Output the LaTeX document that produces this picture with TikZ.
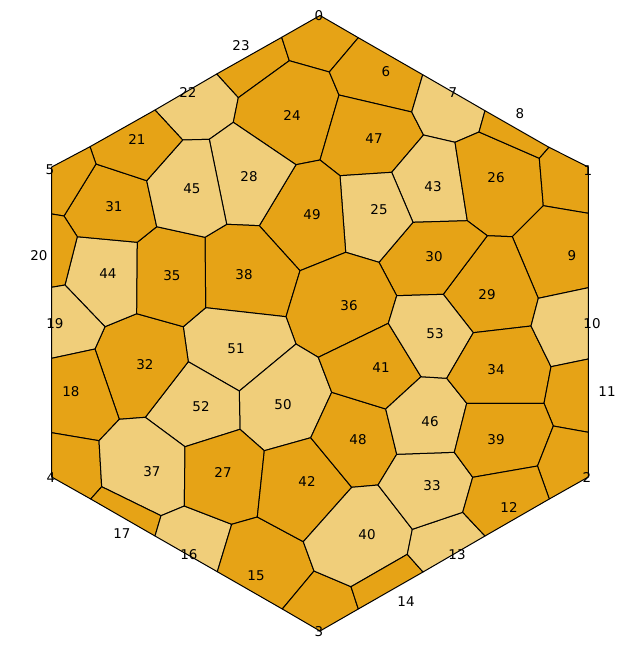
\documentclass[tikz,border=0pt]{standalone}
\usepackage{fontspec}
\setmainfont{DejaVu Sans}
\definecolor{dk}{RGB}{230,163,22}
\definecolor{lt}{RGB}{240,206,122}
\begin{document}
\begin{tikzpicture}[x=1bp,y=-1bp,
  dkc/.style={fill=dk,draw=black,line width=1bp,line join=round},
  ltc/.style={fill=lt,draw=black,line width=1bp,line join=round},
  lbl/.style={font=\fontsize{13.5}{16}\selectfont,inner sep=0pt,text=black}]
\useasboundingbox (0,0) rectangle (640,650);
% top region
\draw[dkc] (216.7,74) -- (238.3,97.7) -- (289.3,60.7) -- (281.7,37.3) -- cycle; % 23
\draw[ltc] (155,110) -- (216.7,74) -- (238.3,97.7) -- (233.3,122.3) -- (209.3,139.3) -- (182.7,140) -- cycle; % 22
\draw[dkc] (281.7,37.3) -- (320,15.5) -- (358.3,37.7) -- (329.3,72) -- (289.3,60.7) -- cycle; % 0
\draw[dkc] (289.3,60.7) -- (329.3,72) -- (339,95) -- (320,160) -- (296,164.7) -- (233.3,122.3) -- (238.3,97.7) -- cycle; % 24
\draw[dkc] (358.3,37.7) -- (422.7,74.7) -- (411.7,112) -- (339,95) -- (329.3,72) -- cycle; % 6
\draw[dkc] (339,95) -- (411.7,112) -- (423.5,135) -- (391.7,172.3) -- (340,175.7) -- (320,160) -- cycle; % 47
\draw[ltc] (422.7,74.7) -- (485,110.7) -- (479,132) -- (455,142.3) -- (423.5,135) -- (411.7,112) -- cycle; % 7
\draw[ltc] (423.5,135) -- (455,142.3) -- (467.3,220.7) -- (413,222.3) -- (391.7,172.3) -- cycle; % 43
\draw[dkc] (455,142.3) -- (479,132) -- (539.3,158.3) -- (543.3,205.7) -- (512.3,236.7) -- (487.3,235.7) -- (467.3,220.7) -- cycle; % 26
\draw[dkc] (485,110.7) -- (549,147.3) -- (539.3,158.3) -- (479,132) -- cycle; % 8
\draw[dkc] (549,147.3) -- (588.3,167) -- (588.3,213.3) -- (543.3,205.7) -- (539.3,158.3) -- cycle; % 1
\draw[dkc] (543.3,205.7) -- (588.3,213.3) -- (588.3,287.7) -- (538.3,298.3) -- (512.3,236.7) -- cycle; % 9
\draw[dkc] (487.3,235.7) -- (512.3,236.7) -- (538.3,298.3) -- (531,326) -- (473.3,332.7) -- (443.3,294.3) -- cycle; % 29
\draw[dkc] (413,222.3) -- (467.3,220.7) -- (487.3,235.7) -- (443.3,294.3) -- (396.7,295.7) -- (379,262.3) -- cycle; % 30
\draw[ltc] (340,175.7) -- (391.7,172.3) -- (413,222.3) -- (379,262.3) -- (345.7,252.3) -- cycle; % 25
\draw[dkc] (320,160) -- (340,175.7) -- (345.7,252.3) -- (300,270.7) -- (259.3,225.7) -- (296,164.7) -- cycle; % 49
\draw[ltc] (233.3,122.3) -- (296,164.7) -- (259.3,225.7) -- (226.7,224.3) -- (209.3,139.3) -- cycle; % 28
\draw[dkc] (205,237.3) -- (226.7,224.3) -- (259.3,225.7) -- (300,270.7) -- (286,316.7) -- (205.7,307.7) -- cycle; % 38
\draw[dkc] (300,270.7) -- (345.7,252.3) -- (379,262.3) -- (396.7,295.7) -- (388.3,323.3) -- (318.3,357.3) -- (296,344) -- (286,316.7) -- cycle; % 36
\draw[ltc] (183.3,326.7) -- (205.7,307.7) -- (286,316.7) -- (296,344) -- (239.3,391) -- (188.3,361.7) -- cycle; % 51
\draw[ltc] (239.3,391) -- (296,344) -- (318.3,357.3) -- (331.7,392.3) -- (310.7,437.7) -- (264.3,450.7) -- (240,429.3) -- cycle; % 50
\draw[ltc] (188.3,361.7) -- (239.3,391) -- (240,429.3) -- (185,446.7) -- (145.3,417.3) -- cycle; % 52
\draw[dkc] (105,326.7) -- (136.7,313.7) -- (183.3,326.7) -- (188.3,361.7) -- (145.3,417.3) -- (119.3,419.3) -- (95,349) -- cycle; % 32
\draw[ltc] (77.3,236.7) -- (137.3,242.3) -- (136.7,313.7) -- (105,326.7) -- (65,285) -- cycle; % 44
\draw[dkc] (137.3,242.3) -- (156.7,226.7) -- (205,237.3) -- (205.7,307.7) -- (183.3,326.7) -- (136.7,313.7) -- cycle; % 35
\draw[dkc] (96,164) -- (146.7,180.7) -- (156.7,226.7) -- (137.3,242.3) -- (77.3,236.7) -- (64,216) -- cycle; % 31
\draw[ltc] (182.7,140) -- (209.3,139.3) -- (226.7,224.3) -- (205,237.3) -- (156.7,226.7) -- (146.7,180.7) -- cycle; % 45
\draw[dkc] (90,146.7) -- (155,110) -- (182.7,140) -- (146.7,180.7) -- (96,164) -- cycle; % 21
\draw[dkc] (51.7,167) -- (90,146.7) -- (96,164) -- (64,216) -- (51.7,214) -- cycle; % 5
\draw[dkc] (51.7,214) -- (64,216) -- (77.3,236.7) -- (65,285) -- (51.7,287.3) -- cycle; % 20
\draw[ltc] (51.7,287.3) -- (65,285) -- (105,326.7) -- (95,349) -- (51.7,358.3) -- cycle; % 19
\draw[dkc] (51.7,358.3) -- (95,349) -- (119.3,419.3) -- (99,440.7) -- (51.7,432.7) -- cycle; % 18
\draw[dkc] (51.7,432.7) -- (99,440.7) -- (101.7,486.7) -- (90.7,499) -- (51.7,477) -- cycle; % 4
\draw[ltc] (99,440.7) -- (119.3,419.3) -- (145.3,417.3) -- (185,446.7) -- (184.3,506) -- (161,515.7) -- (101.7,486.7) -- cycle; % 37
\draw[dkc] (90.7,499) -- (101.7,486.7) -- (161,515.7) -- (155,536) -- cycle; % 17
\draw[ltc] (155,536) -- (161,515.7) -- (184.3,506) -- (231.7,524.3) -- (217.3,571.7) -- cycle; % 16
\draw[dkc] (185,446.7) -- (240,429.3) -- (264.3,450.7) -- (257.3,517) -- (231.7,524.3) -- (184.3,506) -- cycle; % 27
\draw[dkc] (217.3,571.7) -- (231.7,524.3) -- (257.3,517) -- (303.3,541.7) -- (314,571) -- (282.3,609) -- cycle; % 15
\draw[dkc] (282.3,609) -- (314,571) -- (351,586.7) -- (358.3,609) -- (320,631) -- cycle; % 3
\draw[dkc] (264.3,450.7) -- (310.7,437.7) -- (351.7,487.3) -- (303.3,541.7) -- (257.3,517) -- cycle; % 42
\draw[dkc] (331.7,392.3) -- (385.7,409) -- (396.7,454.3) -- (378,485) -- (351.7,487.3) -- (310.7,437.7) -- cycle; % 48
\draw[dkc] (318.3,357.3) -- (388.3,323.3) -- (421,376.7) -- (385.7,409) -- (331.7,392.3) -- cycle; % 41
\draw[ltc] (351.7,487.3) -- (378,485) -- (412.3,529.3) -- (407.3,554.3) -- (351,586.7) -- (314,571) -- (303.3,541.7) -- cycle; % 40
\draw[dkc] (351,586.7) -- (407.3,554.3) -- (423,572) -- (358.3,609) -- cycle; % 14
\draw[ltc] (407.3,554.3) -- (412.3,529.3) -- (462.7,512.3) -- (485,536) -- (423,572) -- cycle; % 13
\draw[ltc] (378,485) -- (396.7,454.3) -- (454.3,452.3) -- (472.7,477.3) -- (462.7,512.3) -- (412.3,529.3) -- cycle; % 33
\draw[ltc] (385.7,409) -- (421,376.7) -- (446.7,378.3) -- (466.7,403.3) -- (454.3,452.3) -- (396.7,454.3) -- cycle; % 46
\draw[ltc] (388.3,323.3) -- (396.7,295.7) -- (443.3,294.3) -- (473.3,332.7) -- (446.7,378.3) -- (421,376.7) -- cycle; % 53
\draw[dkc] (473.3,332.7) -- (531,326) -- (551,366.7) -- (544,403.3) -- (466.7,403.3) -- (446.7,378.3) -- cycle; % 34
\draw[ltc] (538.3,298.3) -- (588.3,287.7) -- (588.3,359) -- (551,366.7) -- (531,326) -- cycle; % 10
\draw[dkc] (551,366.7) -- (588.3,359) -- (588.3,432.3) -- (553.3,426) -- (544,403.3) -- cycle; % 11
\draw[dkc] (466.7,403.3) -- (544,403.3) -- (553.3,426) -- (537.5,466) -- (472.7,477.3) -- (454.3,452.3) -- cycle; % 39
\draw[dkc] (553.3,426) -- (588.3,432.3) -- (588.3,477) -- (549.3,499) -- (537.5,466) -- cycle; % 2
\draw[dkc] (472.7,477.3) -- (537.5,466) -- (549.3,499) -- (485,536) -- (462.7,512.3) -- cycle; % 12
% labels
\foreach \t/\x/\y in {0/319/16,1/588/171,2/587/478,3/319/632,4/51/478,5/50/170,6/386/72,7/453/93,8/520/114,9/572/256,10/592/324,11/607/392,12/509/508,13/457/555,14/406/602,15/256/576,16/189/555,17/122/534,18/71/392,19/55/324,20/39/256,21/137/140,22/188/93,23/241/46,24/292/116,25/379/210,26/496/178,27/223/473,28/249/177,29/487/295,30/434/257,31/114/207,32/145/365,33/432/486,34/496/370,35/172/276,36/349/306,37/152/472,38/244/275,39/496/440,40/367/535,41/381/368,42/307/482,43/433/187,44/108/274,45/192/189,46/430/422,47/374/139,48/358/440,49/312/215,50/283/405,51/236/349,52/201/407,53/435/334}
  \node[lbl] (n\t) at (\x,\y) {\t};
\end{tikzpicture}
\end{document}
